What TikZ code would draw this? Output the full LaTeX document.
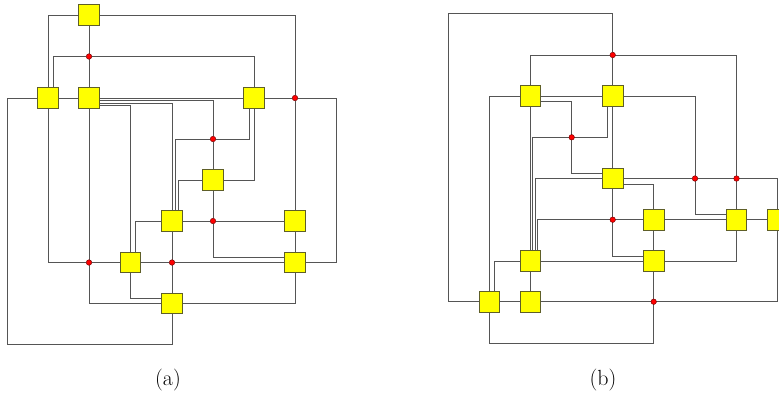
\documentclass[tikz,border=0pt]{standalone}
\usepackage{fontspec}
\usetikzlibrary{backgrounds,calc}
\definecolor{boxfill}{RGB}{255,255,0}
\definecolor{boxline}{RGB}{95,95,40}
\definecolor{wire}{RGB}{85,85,85}
\definecolor{dotline}{RGB}{120,0,0}
\begin{document}
\begin{tikzpicture}[x=1bp,y=-1bp,
  vbox/.style={draw=boxline,fill=boxfill,line width=0.8bp,minimum size=20.5bp,inner sep=0pt,outer sep=0pt},
  jdot/.style={circle,draw=dotline,fill=red,line width=0.5bp,minimum size=5.5bp,inner sep=0pt,outer sep=0pt},
  wirest/.style={draw=wire,line width=1bp},
  captext/.style={font=\fontsize{22}{26}\selectfont,inner sep=0pt}]
\clip (0,0) rectangle (779,395);
% ---------- (a) ----------
\node[vbox] (a1) at (89,15) {};
\node[vbox] (a2) at (48,98) {};
\node[vbox] (a3) at (89,98) {};
\node[vbox] (a4) at (254,98) {};
\node[vbox] (a5) at (213,180) {};
\node[vbox] (a6) at (172,221) {};
\node[vbox] (a7) at (295,221) {};
\node[vbox] (a8) at (130.5,262.5) {};
\node[vbox] (a9) at (295,262.5) {};
\node[vbox] (a10) at (172,303.5) {};
\node[jdot] (da1) at (89,56.5) {};
\node[jdot] (da2) at (295,98) {};
\node[jdot] (da3) at (213,139) {};
\node[jdot] (da4) at (213,221) {};
\node[jdot] (da5) at (89,262.5) {};
\node[jdot] (da6) at (172,262.5) {};
\coordinate (cla) at (7,344);
\coordinate (cra) at (336,98);
% ---------- (b) ----------
\node[vbox] (b1) at (530.5,96) {};
\node[vbox] (b2) at (612.7,96) {};
\node[vbox] (b3) at (612.7,178.5) {};
\node[vbox] (b4) at (653.7,219.7) {};
\node[vbox] (b5) at (736.5,219.7) {};
\node[vbox] (b6) at (777.5,219.7) {};
\node[vbox] (b7) at (653.7,261) {};
\node[vbox] (b8) at (530.5,261) {};
\node[vbox] (b9) at (489.3,301.7) {};
\node[vbox] (b10) at (530.5,301.7) {};
\node[jdot] (e1) at (612.7,55) {};
\node[jdot] (e2) at (571.7,137.3) {};
\node[jdot] (e3) at (695,178.5) {};
\node[jdot] (e4) at (736.5,178.5) {};
\node[jdot] (e5) at (612.7,219.7) {};
\node[jdot] (e6) at (653.7,301.7) {};
\coordinate (clb) at (448,13.3);
\coordinate (cbb) at (653.7,343.3);
% captions
\node[captext] (capa) at (168,380) {(a)};
\node[captext] (capb) at (603,380) {(b)};
\begin{scope}[on background layer]
% edges (a)
\draw[wirest] (a1) -| (a2);
\draw[wirest] (a1) -- (da1);
\draw[wirest] (a1) -| (da2);
\draw[wirest] (da1) -- (a3);
\draw[wirest] (da1) -| ([xshift=5bp]a2.north);
\draw[wirest] (da1) -| (a4);
\draw[wirest] (a2) -- (a3);
\draw[wirest] (a2) -| (cla) -| (a10);
\draw[wirest] (a2) |- (da5);
\draw[wirest] (a3) -- (a4);
\draw[wirest] ([yshift=-2.5bp]a3.east) -| (da3);
\draw[wirest] ([yshift=-5bp]a3.east) -| (a6);
\draw[wirest] ([yshift=-7.5bp]a3.east) -| (a8);
\draw[wirest] (a3) -- (da5);
\draw[wirest] (da2) -- (a7);
\draw[wirest] (a4) -- (da2);
\draw[wirest] (da2) -- (cra) |- (a9);
\draw[wirest] (da3) -| ([xshift=-5bp]a4.south);
\draw[wirest] (da3) -- (a5);
\draw[wirest] (da3) -| ([xshift=3.2bp]a6.north);
\draw[wirest] (a4) |- (a5);
\draw[wirest] (a5) -| ([xshift=6.4bp]a6.north);
\draw[wirest] (a5) -- (da4);
\draw[wirest] (da4) -- (a6);
\draw[wirest] (da4) -- (a7);
\draw[wirest] (da4) |- ([yshift=5.3bp]a9.west);
\draw[wirest] (a7) -- (a9);
\draw[wirest] (a6) -| ([xshift=4.5bp]a8.north);
\draw[wirest] (a6) -- (da6);
\draw[wirest] (a8) -- (da5);
\draw[wirest] (a8) -- (da6);
\draw[wirest] (a8) |- ([yshift=5bp]a10.west);
\draw[wirest] (da5) |- (a10);
\draw[wirest] (da6) -- (a10);
\draw[wirest] (da6) -- (a9);
\draw[wirest] (a9) |- (a10);
% edges (b)
\draw[wirest] (b9) -| (clb) -| (e1);
\draw[wirest] (e1) -- (b2);
\draw[wirest] (e1) -| (b1);
\draw[wirest] (e1) -| (e4);
\draw[wirest] (b1) -| (b9);
\draw[wirest] (b1) -- (b2);
\draw[wirest] ([yshift=-5.7bp]b1.east) -| (e2);
\draw[wirest] (e2) |- ([yshift=5.2bp]b3.west);
\draw[wirest] (e2) -| ([xshift=-5.4bp]b2.south);
\draw[wirest] (e2) -| ([xshift=2bp]b8.north);
\draw[wirest] (b1) -- (b8);
\draw[wirest] (b3) -| ([xshift=5bp]b8.north);
\draw[wirest] (e5) -| ([xshift=7.2bp]b8.north);
\draw[wirest] (b8) -| ([xshift=4.7bp]b9.north);
\draw[wirest] (b8) -- (b7);
\draw[wirest] (b8) -- (b10);
\draw[wirest] (b9) -- (b10);
\draw[wirest] (b9) |- (cbb) -- (e6);
\draw[wirest] (b10) -- (e6);
\draw[wirest] (e6) -| (b6);
\draw[wirest] (e6) -- (b7);
\draw[wirest] (b7) -- (b4);
\draw[wirest] (b7) -| (b5);
\draw[wirest] (e5) |- ([yshift=5bp]b7.west);
\draw[wirest] (e5) -- (b3);
\draw[wirest] (e5) -- (b4);
\draw[wirest] ([yshift=-5.5bp]b3.east) -| (b4);
\draw[wirest] (b4) -- (b5);
\draw[wirest] (b5) -- (b6);
\draw[wirest] (b5) -- (e4);
\draw[wirest] (e3) |- ([yshift=5.4bp]b5.west);
\draw[wirest] (b3) -- (e3);
\draw[wirest] (e3) -- (e4);
\draw[wirest] (e4) -| (b6);
\draw[wirest] (b2) -| (e3);
\draw[wirest] (b2) -- (b3);
\end{scope}
\end{tikzpicture}
\end{document}
